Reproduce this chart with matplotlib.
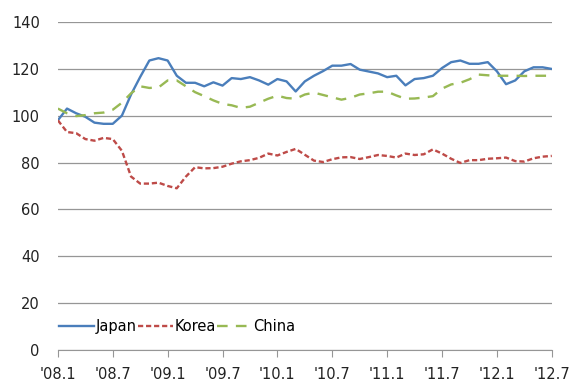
import matplotlib.pyplot as plt

# monthly index values, '08.1 .. '12.7
japan = [98, 103, 101, 99.5, 97, 96.5, 96.5, 100, 109, 116.5,
         123.5, 124.5, 123.5, 117, 114, 114, 112.5, 114.2, 112.8, 116,
         115.6, 116.4, 115, 113.2, 115.6, 114.6, 110.3, 114.6, 117, 119,
         121.3, 121.3, 122, 119.6, 118.8, 118, 116.4, 117, 112.9, 115.6,
         116, 117, 120.3, 122.8, 123.5, 122.1, 122.1, 122.8, 118.9, 113.4,
         115, 118.9, 120.6, 120.6, 119.9]
korea = [98, 93, 92.5, 90, 89.3, 90.5, 90, 85, 74, 71,
         71, 71.4, 70, 69, 74, 78, 77.5, 77.6, 78.2, 79.5,
         80.5, 81, 82, 83.8, 83, 84.5, 85.8, 83.3, 80.8, 80.2,
         81.4, 82.2, 82.3, 81.5, 82.3, 83.2, 82.8, 82.1, 83.8, 83.2,
         83.5, 85.6, 83.8, 81.6, 79.8, 81, 81, 81.6, 81.8, 82.1,
         80.6, 80.4, 81.8, 82.5, 82.8]
china = [103, 101, 99.8, 100.2, 101, 101.3, 102.5, 105.5, 109.5, 112.5,
         111.8, 112, 115, 115, 112.5, 110, 108.3, 106.5, 105, 104.4,
         103.3, 103.8, 105.5, 107.2, 108.5, 107.5, 107.2, 109, 109.8, 108.8,
         107.8, 106.8, 107.6, 109, 109.5, 110.2, 110.2, 108.6, 107.2, 107.3,
         107.7, 108.3, 111.5, 113.3, 114, 115.5, 117.5, 117.2, 117, 117,
         117, 116.9, 117, 117, 117]
tick_labels = ["'08.1", "'08.7", "'09.1", "'09.7", "'10.1",
               "'10.7", "'11.1", "'11.7", "'12.1", "'12.7"]

months = list(range(len(japan)))

plt.rcParams['font.family'] = ['DejaVu Sans']

fig = plt.figure(figsize=(5.73, 3.83), dpi=100)
ax = fig.add_axes([0.101, 0.086, 0.862, 0.857])

ax.plot(months, japan, color='#4A7EBB', lw=1.7, label='Japan')
ax.plot(months, korea, color='#BE4B48', lw=1.7, dashes=(2.2, 1.2), label='Korea')
ax.plot(months, china, color='#98B954', lw=1.7, dashes=(4.5, 3.5), label='China')

ax.set_xlim(0, 54)
ax.set_ylim(0, 140)
ax.set_yticks(range(0, 141, 20))
ax.set_xticks(range(0, 55, 6))
ax.set_xticklabels(tick_labels)

ax.grid(axis='y', color='#969696', lw=0.9)
ax.set_axisbelow(True)
for s in ['top', 'right', 'left']:
    ax.spines[s].set_visible(False)
ax.spines['bottom'].set_color('#969696')
ax.tick_params(axis='y', length=0, pad=13, labelsize=10.5, labelcolor='#222222')
ax.tick_params(axis='x', length=5, color='#969696', pad=7, labelsize=10.5, labelcolor='#222222')

ax.legend(loc='lower left', bbox_to_anchor=(-0.01, 0.03), ncol=3, frameon=False,
          handlelength=2.4, handletextpad=0.1, columnspacing=0.1, fontsize=10.5,
          borderaxespad=0)

fig.savefig('out.png', dpi=100)
